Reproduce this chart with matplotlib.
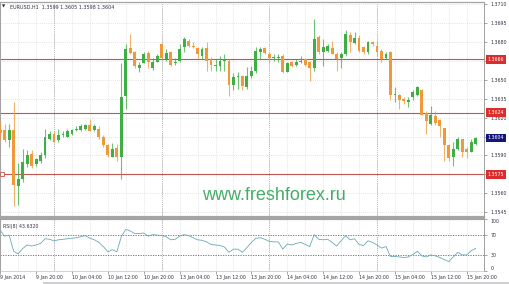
import numpy as np
import matplotlib.pyplot as plt
from matplotlib.patches import Rectangle

# EURUSD H1, 9 Jan 12:00 .. 15 Jan 22:00
opens = [1.3610, 1.3610, 1.3602, 1.3610, 1.3566, 1.3571, 1.3583, 1.3591, 1.3583, 1.3586,
         1.3590, 1.3603, 1.3607, 1.3602, 1.3606, 1.3605, 1.3607, 1.3610, 1.3610, 1.3611,
         1.3614, 1.3610, 1.3611, 1.3605, 1.3598, 1.3589, 1.3596, 1.3589, 1.3637, 1.3675,
         1.3672, 1.3659, 1.3663, 1.3671, 1.3659, 1.3664, 1.3678, 1.3666, 1.3672, 1.3663,
         1.3665, 1.3676, 1.3681, 1.3677, 1.3675, 1.3669, 1.3675, 1.3666, 1.3661, 1.3661,
         1.3665, 1.3665, 1.3646, 1.3652, 1.3653, 1.3644, 1.3653, 1.3657, 1.3672, 1.3675,
         1.3670, 1.3667, 1.3667, 1.3669, 1.3656, 1.3664, 1.3662, 1.3664, 1.3666, 1.3664,
         1.3659, 1.3684, 1.3672, 1.3673, 1.3675, 1.3670, 1.3667, 1.3670, 1.3685, 1.3679,
         1.3683, 1.3676, 1.3672, 1.3680, 1.3677, 1.3673, 1.3667, 1.3672, 1.3638, 1.3638,
         1.3635, 1.3632, 1.3636, 1.3638, 1.3642, 1.3624, 1.3615, 1.3621, 1.3618, 1.3612,
         1.3598, 1.3589, 1.3595, 1.3603, 1.3595, 1.3593, 1.3599]
highs = [1.3617, 1.3615, 1.3615, 1.3632, 1.3584, 1.3595, 1.3594, 1.3594, 1.3588, 1.3593,
         1.3611, 1.3609, 1.3609, 1.3611, 1.3609, 1.3611, 1.3611, 1.3613, 1.3615, 1.3615,
         1.3619, 1.3615, 1.3613, 1.3606, 1.3599, 1.3600, 1.3599, 1.3663, 1.3678, 1.3686,
         1.3673, 1.3664, 1.3672, 1.3673, 1.3667, 1.3670, 1.3679, 1.3674, 1.3673, 1.3667,
         1.3678, 1.3684, 1.3682, 1.3680, 1.3676, 1.3676, 1.3680, 1.3668, 1.3666, 1.3669,
         1.3670, 1.3666, 1.3655, 1.3656, 1.3654, 1.3660, 1.3661, 1.3676, 1.3676, 1.3676,
         1.3672, 1.3670, 1.3670, 1.3670, 1.3664, 1.3665, 1.3666, 1.3669, 1.3667, 1.3665,
         1.3698, 1.3685, 1.3682, 1.3678, 1.3681, 1.3672, 1.3672, 1.3689, 1.3688, 1.3688,
         1.3685, 1.3677, 1.3681, 1.3681, 1.3681, 1.3674, 1.3672, 1.3673, 1.3644, 1.3639,
         1.3636, 1.3636, 1.3642, 1.3645, 1.3643, 1.3625, 1.3629, 1.3625, 1.3619, 1.3612,
         1.3599, 1.3601, 1.3605, 1.3603, 1.3597, 1.3603, 1.3605]
lows = [1.3602, 1.3601, 1.3597, 1.3550, 1.3551, 1.3569, 1.3581, 1.3580, 1.3582, 1.3584,
        1.3588, 1.3602, 1.3601, 1.3601, 1.3605, 1.3605, 1.3606, 1.3609, 1.3609, 1.3610,
        1.3609, 1.3609, 1.3603, 1.3597, 1.3589, 1.3589, 1.3586, 1.3571, 1.3627, 1.3670,
        1.3659, 1.3656, 1.3663, 1.3659, 1.3658, 1.3664, 1.3666, 1.3665, 1.3661, 1.3662,
        1.3664, 1.3672, 1.3676, 1.3675, 1.3666, 1.3666, 1.3657, 1.3657, 1.3657, 1.3657,
        1.3657, 1.3637, 1.3642, 1.3643, 1.3642, 1.3643, 1.3651, 1.3655, 1.3666, 1.3670,
        1.3664, 1.3665, 1.3664, 1.3655, 1.3656, 1.3660, 1.3661, 1.3663, 1.3661, 1.3649,
        1.3657, 1.3670, 1.3661, 1.3672, 1.3670, 1.3657, 1.3659, 1.3669, 1.3672, 1.3678,
        1.3672, 1.3670, 1.3670, 1.3677, 1.3669, 1.3664, 1.3666, 1.3634, 1.3632, 1.3627,
        1.3631, 1.3628, 1.3634, 1.3637, 1.3622, 1.3607, 1.3614, 1.3614, 1.3605, 1.3586,
        1.3586, 1.3582, 1.3594, 1.3589, 1.3588, 1.3593, 1.3598]
closes = [1.3608, 1.3602, 1.3610, 1.3567, 1.3571, 1.3585, 1.3590, 1.3582, 1.3587, 1.3590,
          1.3605, 1.3607, 1.3601, 1.3606, 1.3607, 1.3609, 1.3610, 1.3611, 1.3613, 1.3614,
          1.3609, 1.3613, 1.3605, 1.3598, 1.3590, 1.3595, 1.3589, 1.3636, 1.3674, 1.3671,
          1.3661, 1.3662, 1.3670, 1.3664, 1.3664, 1.3669, 1.3667, 1.3671, 1.3662, 1.3664,
          1.3674, 1.3682, 1.3677, 1.3676, 1.3670, 1.3674, 1.3665, 1.3662, 1.3662, 1.3665,
          1.3666, 1.3646, 1.3652, 1.3653, 1.3645, 1.3653, 1.3657, 1.3673, 1.3674, 1.3671,
          1.3667, 1.3668, 1.3668, 1.3656, 1.3663, 1.3661, 1.3664, 1.3665, 1.3662, 1.3659,
          1.3682, 1.3672, 1.3676, 1.3677, 1.3670, 1.3666, 1.3670, 1.3686, 1.3680, 1.3683,
          1.3673, 1.3672, 1.3680, 1.3678, 1.3672, 1.3666, 1.3670, 1.3638, 1.3639, 1.3634,
          1.3633, 1.3634, 1.3640, 1.3644, 1.3622, 1.3617, 1.3622, 1.3616, 1.3613, 1.3598,
          1.3588, 1.3595, 1.3603, 1.3593, 1.3593, 1.3601, 1.3604]
rsi_vals = [78, 67, 69, 38, 33, 43, 50, 48, 50, 53,
            62, 61, 58, 60, 61, 62, 63, 64, 66, 68,
            63, 60, 55, 47, 37, 41, 37, 66, 80, 77,
            72, 72, 73, 67, 70, 69, 68, 66, 60, 61,
            67, 70, 68, 64, 60, 59, 56, 51, 50, 49,
            46, 36, 42, 42, 36, 45, 55, 63, 64, 61,
            57, 56, 56, 42, 52, 50, 53, 55, 51, 47,
            70, 61, 60, 61, 55, 48, 58, 68, 60, 62,
            51, 49, 58, 55, 50, 44, 47, 28, 28, 27,
            26, 27, 32, 38, 29, 27, 31, 29, 26, 22,
            18, 27, 36, 31, 31, 39, 43.632]

level_lines = [1.3666, 1.3624, 1.3575]
price_ticks = [1.3545, 1.3560, 1.3575, 1.3590, 1.3605, 1.3620,
               1.3635, 1.3650, 1.3665, 1.3680, 1.3695, 1.3710]
rsi_ticks = [0, 30, 70, 100]
day_starts = [12, 36, 60, 84]
time_ticks = list(range(0, 107, 8))
time_labels = ['9 Jan 2014', '9 Jan 20:00', '10 Jan 04:00', '10 Jan 12:00',
               '10 Jan 20:00', '13 Jan 04:00', '13 Jan 12:00', '13 Jan 20:00',
               '14 Jan 04:00', '14 Jan 12:00', '14 Jan 20:00', '15 Jan 04:00',
               '15 Jan 12:00', '15 Jan 20:00']

BULL = '#3fae45'
BEAR = '#f0993a'
RED = '#c0574f'
GRID = '#dcdcdc'
FRAME = '#a4a4a4'
TXT = '#333344'

W, H = 510, 284
fig = plt.figure(figsize=(W / 100, H / 100), dpi=100)
fig.patch.set_facecolor('white')


def px_rect(x0, y0, x1, y1):
    return [x0 / W, 1 - y1 / H, (x1 - x0) / W, (y1 - y0) / H]


ax = fig.add_axes(px_rect(0, 2, 484, 217))
ax2 = fig.add_axes(px_rect(0, 219, 484, 271))
xlim = (-0.04, 107.85)

# --- price panel
idx = np.arange(len(opens))
o, hi, lo, c = (np.array(v) for v in (opens, highs, lows, closes))
cols = np.where(c >= o, BULL, BEAR)
ax.vlines(idx, lo, hi, colors=cols, lw=0.8, alpha=0.75, zorder=3)
ax.bar(idx, np.maximum(np.abs(c - o), 0.00004), 0.64, bottom=np.minimum(o, c),
       color=cols, lw=0, zorder=4)

for lv in level_lines:
    ax.axhline(lv, color=RED, lw=0.8, zorder=2)
ax.plot(idx[0] + 0.3, level_lines[2], 's', ms=2.2, mfc='white', mec=RED, mew=0.6, zorder=5)

# price tags on the right hide the tick labels right under them
tagged = level_lines + [closes[-1]]
ax.set_xlim(*xlim)
ax.set_ylim(1.35413, 1.37115)
ax.set_xticks(range(0, 107, 4))
ax.set_xticklabels([])
ax.tick_params(axis='x', length=0)
ax.set_yticks(price_ticks)
ax.set_yticklabels(['' if min(abs(v - t) for t in tagged) < 0.00025 else f'{v:.4f}'
                    for v in price_ticks])
ax.yaxis.tick_right()
ax.tick_params(axis='y', length=2, width=0.5, pad=3, labelsize=3.4,
               labelcolor=TXT, color='#808080')
ax.grid(True, color=GRID, lw=0.6, ls=(0, (1, 1.5)), zorder=0)
for d in day_starts:
    ax.axvline(d, color='#555555', lw=0.6, ls=(0, (1, 1.5)), zorder=1)

for lv in level_lines:
    ax.text(1.007, lv, f'{lv:.4f}', transform=ax.get_yaxis_transform(), ha='left',
            va='center', fontsize=3.4, color='white', clip_on=False, zorder=6,
            bbox=dict(boxstyle='square,pad=0.35', fc='#dc2d2d', ec='none'))
ax.text(1.007, closes[-1], f'{closes[-1]:.4f}', transform=ax.get_yaxis_transform(),
        ha='left', va='center', fontsize=3.4, color='white', clip_on=False, zorder=6,
        bbox=dict(boxstyle='square,pad=0.35', fc='#14177a', ec='none'))

ax.text(0.005, 0.977, '\u25bc', transform=ax.transAxes, fontsize=3, color='#222222',
        va='center')
ax.text(0.021, 0.977, f'EURUSD,H1  {opens[-1]:.4f} {highs[-1]:.4f} {lows[-1]:.4f} {closes[-1]:.4f}',
        transform=ax.transAxes, fontsize=3.5, color=TXT, va='center')
ax.text(0.417, 0.079, 'www.freshforex.ru', transform=ax.transAxes, fontsize=13,
        family='Liberation Sans', color='#46ad68', va='baseline', ha='left', zorder=7)

# --- RSI panel
ax2.plot(idx, rsi_vals, color='#6aa8b8', lw=0.6, zorder=3)
for v in (30, 70):
    ax2.axhline(v, color='#666666', lw=0.6, ls=(0, (1.5, 1.5)), zorder=2)
ax2.set_xlim(*xlim)
ax2.set_ylim(0, 100)
ax2.set_xticks(range(0, 107, 4), minor=True)
ax2.set_xticks(time_ticks)
ax2.set_xticklabels(time_labels)
plt.setp(ax2.get_xticklabels(), ha='left')
ax2.tick_params(axis='x', which='major', length=2, width=0.5, pad=1, labelsize=3.4,
                labelcolor=TXT, color='#808080')
ax2.tick_params(axis='x', which='minor', length=0)
ax2.grid(True, which='both', axis='x', color=GRID, lw=0.6, ls=(0, (1, 1.5)), zorder=0)
for d in day_starts:
    ax2.axvline(d, color='#555555', lw=0.6, ls=(0, (1, 1.5)), zorder=1)
ax2.yaxis.tick_right()
ax2.set_yticks(rsi_ticks)
ax2.set_yticklabels([str(v) for v in rsi_ticks])
ax2.tick_params(axis='y', length=2, width=0.5, pad=3, labelsize=3.4,
                labelcolor=TXT, color='#808080')
ylabs = ax2.get_yticklabels()
ylabs[0].set_va('bottom')
ylabs[-1].set_va('top')
ax2.text(0.006, 0.86, f'RSI(8) {rsi_vals[-1]:.4f}', transform=ax2.transAxes,
         fontsize=3.4, color=TXT, va='center')

# --- frame
for a in (ax, ax2):
    a.spines['left'].set_color(FRAME)
    a.spines['left'].set_linewidth(0.8)
    a.spines['right'].set_color('#909090')
    a.spines['right'].set_linewidth(0.6)
    a.spines['right'].set_linestyle((0, (1, 1)))
ax.spines['top'].set_color(FRAME)
ax.spines['top'].set_linewidth(0.9)
ax.spines['bottom'].set_color(FRAME)
ax.spines['bottom'].set_linewidth(1.6)
ax2.spines['top'].set_color(FRAME)
ax2.spines['top'].set_linewidth(1.6)
ax2.spines['bottom'].set_color('#c0c0c0')
ax2.spines['bottom'].set_linewidth(0.5)

fig.add_artist(Rectangle((43 / W, 0), 1, 2.5 / H, transform=fig.transFigure,
                         color='#d0d0d0', lw=0))

fig.savefig('out.png', dpi=100)
